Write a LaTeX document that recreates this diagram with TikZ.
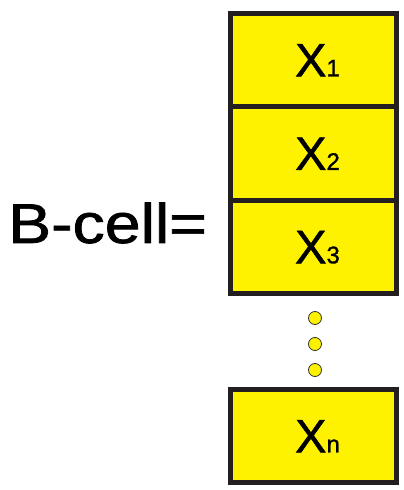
\documentclass[tikz,border=0pt]{standalone}
\usepackage{fontspec}
\setmainfont{Liberation Sans}[FakeBold=1.2]
\usetikzlibrary{positioning}

\definecolor{cellyellow}{RGB}{255,242,0}
\definecolor{cellline}{RGB}{35,31,32}

% big X with a small index on the same baseline
\newcommand{\xsub}[1]{\hspace{8pt}X{\fontsize{24pt}{24pt}\selectfont #1}}

\begin{document}
\begin{tikzpicture}[x=1pt, y=1pt, node distance=0pt,
        cellbox/.style={rectangle, draw=cellline, line width=5pt, fill=cellyellow, minimum width=166pt, minimum height=93.5pt, outer sep=0pt, inner sep=0pt, font=\fontsize{47pt}{47pt}\selectfont},
        dot/.style={circle, draw=black!80, line width=0.8pt, fill=cellyellow, minimum size=13pt, inner sep=0pt, outer sep=0pt}]

        \useasboundingbox (0,0) rectangle (404,490);

        % Nodes
        \node [cellbox] (x1) at (313.5,429.75) {\xsub{1}};
        \node [cellbox, below=of x1] (x2) {\xsub{2}};
        \node [cellbox, below=of x2] (x3) {\xsub{3}};
        \node [dot, below=17.5pt of x3, xshift=1.5pt] (d1) {};
        \node [dot, below=13pt of d1] (d2) {};
        \node [dot, below=13pt of d2] (d3) {};
        \node [cellbox, below=95.5pt of x3] (xn) {\xsub{n}};

        \node [anchor=base west, font=\fontsize{56pt}{56pt}\selectfont, inner sep=0pt] (bcell) at (8,247) {\scalebox{1.15}[1]{B-cell=}};

    \end{tikzpicture}
\end{document}
